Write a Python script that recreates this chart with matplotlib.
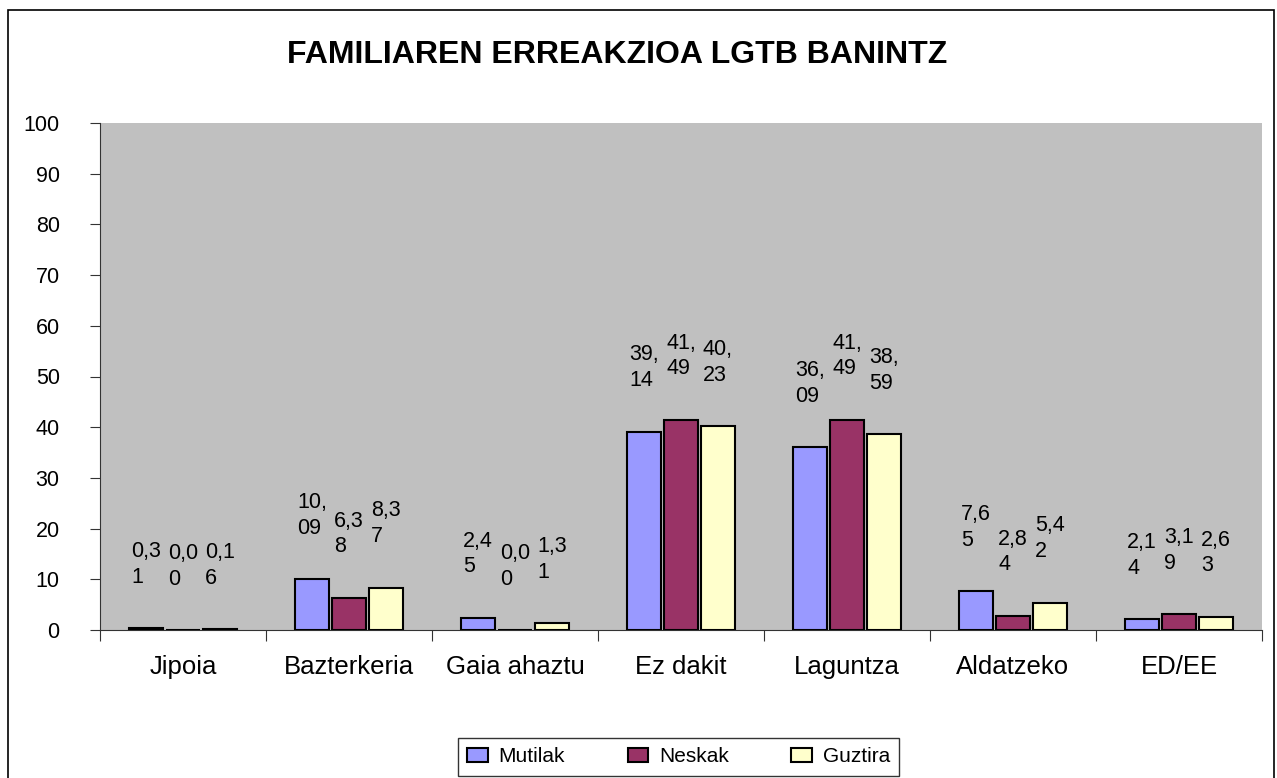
import numpy as np
import matplotlib
matplotlib.use('Agg')
import matplotlib.pyplot as plt
from matplotlib.patches import Rectangle

plt.rcParams['font.family'] = ['Liberation Sans', 'DejaVu Sans']

categories = ['Jipoia', 'Bazterkeria', 'Gaia ahaztu', 'Ez dakit', 'Laguntza', 'Aldatzeko', 'ED/EE']
mutilak = [0.31, 10.09, 2.45, 39.14, 36.09, 7.65, 2.14]
neskak = [0.00, 6.38, 0.00, 41.49, 41.49, 2.84, 3.19]
guztira = [0.16, 8.37, 1.31, 40.23, 38.59, 5.42, 2.63]

series = [('Mutilak', mutilak, '#9999FF'),
          ('Neskak', neskak, '#993366'),
          ('Guztira', guztira, '#FFFFCC')]


def wrap_label(v):
    # excel squeezed the labels into 3-char wide boxes
    s = f'{v:.2f}'.replace('.', ',')
    return s[:3] + '\n' + s[3:]


fig = plt.figure(figsize=(12.77, 7.78), dpi=100)
fig.patch.set_facecolor('white')
fig.patches.append(Rectangle((8 / 1277, -0.05), 1266 / 1277, 1.05 - 10 / 778,
                             transform=fig.transFigure, fill=False,
                             edgecolor='black', linewidth=1.2))

ax = fig.add_axes([100 / 1277, 1 - 630 / 778, 1162 / 1277, 507 / 778])
ax.set_facecolor('#C0C0C0')

x = np.arange(len(categories))
w = 0.21
for i, (name, vals, col) in enumerate(series):
    pos = x + (i - 1) * w * 1.06
    ax.bar(pos, vals, width=w, color=col, edgecolor='black', linewidth=1.5,
           label=name, zorder=3)
    for px, v in zip(pos, vals):
        ax.annotate(wrap_label(v), (px, v), xytext=(0, 29),
                    textcoords='offset points', ha='center', va='bottom',
                    fontsize=15.5, linespacing=1.3, multialignment='left')

ax.set_xlim(-0.5, len(categories) - 0.5)
ax.set_ylim(0, 100)
ax.set_yticks(range(0, 101, 10))
ax.set_xticks(np.arange(-0.5, len(categories), 1.0))
ax.set_xticklabels([])
ax.set_xticks(x, minor=True)
ax.set_xticklabels(categories, minor=True, fontsize=18.5)
ax.tick_params(axis='x', which='major', length=8, direction='out', color='#333333')
ax.tick_params(axis='x', which='minor', length=0, pad=18)
ax.tick_params(axis='y', length=7, pad=22, labelsize=15.5, color='#333333')

for s in ['top', 'right']:
    ax.spines[s].set_visible(False)
for s in ['left', 'bottom']:
    ax.spines[s].set_color('#333333')

fig.text(617 / 1277, 1 - 55 / 778, 'FAMILIAREN ERREAKZIOA LGTB BANINTZ',
         ha='center', va='center', fontsize=23, fontweight='bold')

leg = fig.legend(loc='upper left', bbox_to_anchor=(458 / 1277, 1 - 738 / 778),
                 ncol=3, fontsize=15, frameon=True, fancybox=False,
                 edgecolor='black', handlelength=1.0, handleheight=0.7,
                 columnspacing=3.0, handletextpad=0.5, borderpad=0.45,
                 borderaxespad=0)
leg.get_frame().set_linewidth(1.0)

fig.savefig('out.png', dpi=100)
